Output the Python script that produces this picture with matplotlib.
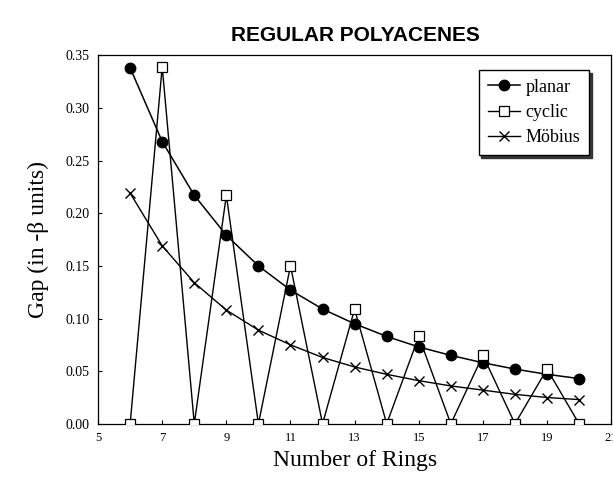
import matplotlib.pyplot as plt

rings = [6, 7, 8, 9, 10, 11, 12, 13, 14, 15, 16, 17, 18, 19, 20]
planar = [0.338, 0.268, 0.217, 0.179, 0.150, 0.127, 0.109, 0.095, 0.083,
          0.073, 0.065, 0.058, 0.052, 0.047, 0.043]
cyclic = [0.0, 0.339, 0.0, 0.217, 0.0, 0.150, 0.0, 0.109, 0.0,
          0.083, 0.0, 0.065, 0.0, 0.052, 0.0]
mobius = [0.219, 0.169, 0.134, 0.108, 0.089, 0.075, 0.063, 0.054, 0.047,
          0.041, 0.036, 0.032, 0.028, 0.025, 0.023]
xticks = [5, 7, 9, 11, 13, 15, 17, 19, 21]
yticks = [0.0, 0.05, 0.10, 0.15, 0.20, 0.25, 0.30, 0.35]

serif = 'Liberation Serif'

fig = plt.figure(figsize=(6.13, 4.8), dpi=100)
ax = fig.add_axes([0.16, 0.117, 0.837, 0.768])

ax.plot(rings, planar, color='k', lw=1.1, marker='o', ms=7.5,
        mfc='k', mec='k', label='planar', zorder=3)
ax.plot(rings, cyclic, color='k', lw=1.0, marker='s', ms=6.5,
        mfc='white', mec='k', mew=0.9, label='cyclic', zorder=4)
ax.plot(rings, mobius, color='k', lw=1.0, marker='x', ms=7.5,
        mew=1.0, label='Möbius', zorder=2)

ax.set_xlim(5, 21)
ax.set_ylim(0, 0.35)
ax.set_xticks(xticks)
ax.set_xticklabels([str(t) for t in xticks], fontfamily=serif, fontsize=9)
ax.set_yticks(yticks)
ax.set_yticklabels(['%.2f' % t for t in yticks], fontfamily=serif, fontsize=10)
ax.tick_params(direction='in', length=3, width=0.8, pad=6)

ax.set_xlabel('Number of Rings', fontfamily=serif, fontsize=17, labelpad=4)
ax.set_ylabel('Gap (in -β units)', fontfamily=serif, fontsize=17, labelpad=12)
fig.text(0.58, 0.927, 'REGULAR POLYACENES', ha='center', va='center',
         fontfamily='Liberation Sans', fontweight='bold', fontsize=15)

leg = ax.legend(loc='upper right', bbox_to_anchor=(0.975, 0.985),
                prop={'family': serif, 'size': 13}, frameon=True,
                fancybox=False, shadow={'color': '0.15', 'alpha': 0.9},
                handlelength=1.8, handletextpad=0.3, borderpad=0.5,
                labelspacing=0.45)
leg.get_frame().set_edgecolor('k')
leg.get_frame().set_linewidth(1.0)

for s in ax.spines.values():
    s.set_linewidth(0.9)

fig.savefig('out.png', dpi=100)
